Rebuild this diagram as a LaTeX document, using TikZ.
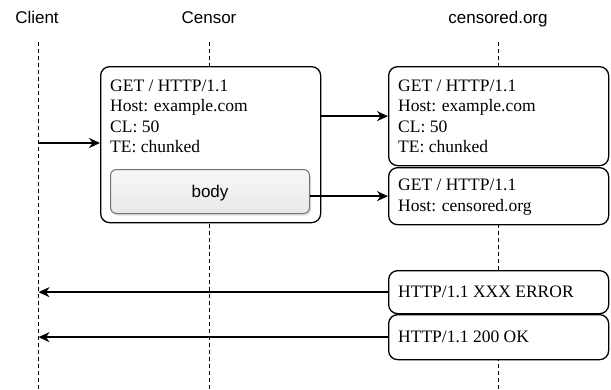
\documentclass[tikz,border=0pt]{standalone}
\usepackage{fontspec}
\setmainfont{Liberation Serif}
\newfontfamily\headfont{Liberation Sans}
\usetikzlibrary{arrows.meta,shadows}
\begin{document}
\begin{tikzpicture}[x=1pt,y=-1pt,
  lifeline/.style={draw=black,line width=1pt,dash pattern=on 4pt off 3pt},
  msgbox/.style={draw=black,fill=white,line width=1.3pt,rounded corners=9pt,anchor=north west,inner sep=0pt},
  msgtext/.style={anchor=north west,align=left,inner sep=0pt,font=\fontsize{17.5}{20.5}\selectfont},
  head/.style={anchor=base,inner sep=0pt,font=\headfont\fontsize{17}{20}\selectfont},
  bodybox/.style={draw=black!55,line width=1pt,rounded corners=6pt,top color=black!3,bottom color=black!9,
    drop shadow={shadow xshift=1.5pt,shadow yshift=-2pt,opacity=0.25},anchor=north west,inner sep=0pt},
  arr/.style={draw=black,line width=1.5pt,-{Stealth[length=11pt,width=10pt,inset=3.5pt]}}]
\useasboundingbox (0,0) rectangle (611,389);
% headings
\node[head] (hcl) at (37,23) {Client};
\node[head] (hce) at (209,23) {Censor};
\node[head] (hor) at (498,23) {censored.org};
% lifelines
\coordinate (clt) at (38.5,42); \coordinate (clb) at (38.5,389);
\coordinate (cet) at (209.5,42); \coordinate (ceb) at (209.5,389);
\coordinate (ort) at (498.5,42); \coordinate (orb) at (498.5,389);
\draw[lifeline] (clt) -- (clb);
\draw[lifeline] (cet) -- (ceb);
\draw[lifeline] (ort) -- (orb);
% censor box
\node[msgbox,minimum width=220pt,minimum height=156pt] (cen) at (100,66) {};
\node[msgtext] (centxt) at (110,79.5) {GET / HTTP/1.1\\Host: example.com\\CL: 50\\TE: chunked};
\node[bodybox,minimum width=199pt,minimum height=44pt] (body) at (110,169) {};
\node[font=\headfont\fontsize{17}{20}\selectfont] (bodytxt) at ([yshift=-1.5pt]body.center) {body};
% right boxes
\node[msgbox,minimum width=220pt,minimum height=99pt] (r1) at (388,66) {};
\node[msgtext] (r1txt) at (398,79.5) {GET / HTTP/1.1\\Host: example.com\\CL: 50\\TE: chunked};
\node[msgbox,minimum width=220pt,minimum height=57pt] (r2) at (388,167) {};
\node[msgtext] (r2txt) at (398,179) {GET / HTTP/1.1\\Host: censored.org};
\node[msgbox,minimum width=220pt,minimum height=43pt] (r3) at (388,270) {};
\node[msgtext,anchor=west] (r3txt) at (398,292) {HTTP/1.1 XXX ERROR};
\node[msgbox,minimum width=220pt,minimum height=45pt] (r4) at (388,314) {};
\node[msgtext,anchor=west] (r4txt) at (398,337) {HTTP/1.1 200 OK};
% arrows
\coordinate (c1) at (38.5,143);
\draw[arr] (c1) -- (c1 -| cen.west);
\draw[arr] (r1.west -| cen.east) -- (r1.west);
\draw[arr] (r2.west -| body.east) -- (r2.west);
\draw[arr] (r3.west) -- (r3.west -| clt);
\draw[arr] (r4.west) -- (r4.west -| clt);
\end{tikzpicture}
\end{document}
